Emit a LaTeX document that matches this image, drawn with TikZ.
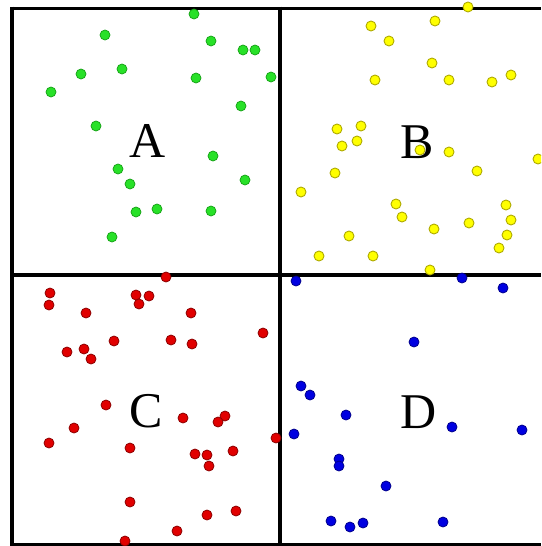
\documentclass[tikz,border=0pt]{standalone}
\usepackage{fontspec}
\setmainfont{Liberation Serif}
\definecolor{gfill}{RGB}{40,225,40}
\definecolor{gline}{RGB}{20,160,20}
\definecolor{yfill}{RGB}{255,255,0}
\definecolor{yline}{RGB}{175,170,0}
\definecolor{rfill}{RGB}{225,0,0}
\definecolor{rline}{RGB}{140,0,0}
\definecolor{bfill}{RGB}{0,0,225}
\definecolor{bline}{RGB}{0,0,140}
\tikzset{
  frame/.style={line width=3.8pt, black},
  gdot/.style={fill=gfill, draw=gline, line width=0.7pt},
  ydot/.style={fill=yfill, draw=yline, line width=0.9pt},
  rdot/.style={fill=rfill, draw=rline, line width=0.8pt},
  bdot/.style={fill=bfill, draw=bline, line width=0.8pt},
  lbl/.style={font=\fontsize{50}{50}\selectfont, anchor=base, inner sep=0pt}
}
\begin{document}
\begin{tikzpicture}[x=1pt,y=-1pt]
\useasboundingbox (0,0) rectangle (541,546);
\clip (0,0) rectangle (541,546);
\fill[white] (0,0) rectangle (541,546);
% frame
\draw[frame] (10.1,8.5) -- (541,8.5);
\draw[frame] (12,6.6) -- (12,546);
\draw[frame] (280,6.6) -- (280,546);
\draw[frame] (12,275) -- (541,275);
\draw[frame] (12,545) -- (541,545);
% labels
\node[lbl] (la) at (148,157) {A};
\node[lbl] (lb) at (417,158) {B};
\node[lbl] (lc) at (146,427) {C};
\node[lbl] (ld) at (419,428) {D};
% green
\foreach \x/\y in {194/14,105/35,211/41,243/50,255/50,81/74,122/69,51/92,196/78,271/77,241/106,96/126,213/156,118/169,130/184,245/180,136/212,157/209,211/211,112/237}
  \path[gdot] (\x,\y) circle (5);
% yellow
\foreach \x/\y in {468/7,371/26,435/21,389/41,432/63,375/80,449/80,492/82,511/75,337/129,361/126,342/146,357/141,420/150,449/152,538/159,477/171,335/173,301/192,396/204,402/217,506/205,511/220,469/223,434/229,507/235,349/236,499/248,319/256,373/256,430/270}
  \path[ydot] (\x,\y) circle (5);
% red
\foreach \x/\y in {166/277,50/293,49/305,136/295,149/296,139/304,86/313,191/313,263/333,114/341,171/340,192/344,67/352,84/349,91/359,106/405,183/418,225/416,218/422,74/428,49/443,276/438,130/448,195/454,207/455,209/466,233/451,130/502,207/515,236/511,177/531,125/541}
  \path[rdot] (\x,\y) circle (5);
% blue
\foreach \x/\y in {296/281,462/278,503/288,414/342,301/386,310/395,346/415,294/434,452/427,522/430,339/459,339/466,386/486,331/521,350/527,363/523,443/522}
  \path[bdot] (\x,\y) circle (5);
\end{tikzpicture}
\end{document}
